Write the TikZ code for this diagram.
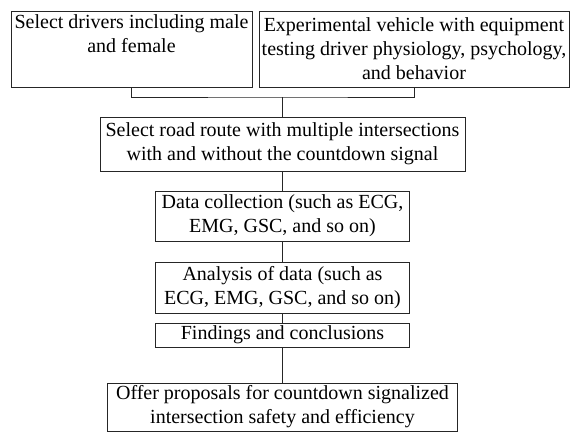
\documentclass[tikz,border=0pt]{standalone}
\usepackage{fontspec}
\setmainfont{Liberation Serif}
\begin{document}
\begin{tikzpicture}[x=0.75pt,y=-0.75pt,
        stage/.style={draw=black!85, line width=0.6pt, align=center, inner xsep=0.5pt, inner ysep=2pt,
                      font=\fontsize{15}{18}\selectfont},
        link/.style={draw=black!85, line width=0.6pt}]
                \useasboundingbox (0,0) rectangle (570,432);

                \node[stage, minimum width=180.75pt, minimum height=57pt] (drivers) at (131.5,49)
                    {Select drivers including male\\ and female\\ \strut};
                \node[stage, minimum width=232.5pt, minimum height=57pt] (vehicle) at (414,49)
                    {Experimental vehicle with equipment\\ testing driver physiology, psychology,\\ and behavior};
                \node[stage, minimum width=273.75pt, minimum height=40.5pt] (route) at (282.5,144)
                    {Select road route with multiple intersections\\ with and without the countdown signal};
                \node[stage, minimum width=190.5pt, minimum height=37.5pt] (collect) at (282.5,216)
                    {Data collection (such as ECG,\\ EMG, GSC, and so on)};
                \node[stage, minimum width=190.5pt, minimum height=38.25pt] (analysis) at (282.5,287.5)
                    {Analysis of data (such as\\ ECG, EMG, GSC, and so on)};
                \node[stage, minimum width=190.5pt, minimum height=18pt, inner ysep=0pt] (findings) at (282.5,335)
                    {Findings and conclusions};
                \node[stage, minimum width=262.5pt, minimum height=36pt] (proposals) at (282.5,407)
                    {Offer proposals for countdown signalized\\ intersection safety and efficiency};

                % bracket joining the two top boxes
                \coordinate (join) at (282.5,97);
                \draw[link] (drivers.south) |- (join) -| (vehicle.south);
                \draw[link] (join) -- (route.north);

                \draw[link] (route) -- (collect);
                \draw[link] (collect) -- (analysis);
                \draw[link] (analysis) -- (findings);
                \draw[link] (findings) -- (proposals);

            \end{tikzpicture}
\end{document}
